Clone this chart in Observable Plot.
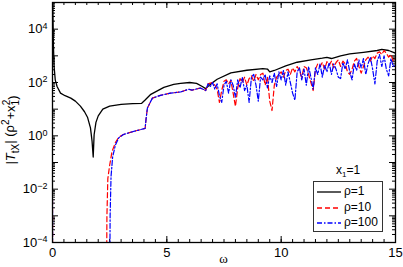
<!DOCTYPE html>
<html><head><meta charset="utf-8">
<script src="https://cdn.jsdelivr.net/npm/d3@7"></script>
<script src="https://cdn.jsdelivr.net/npm/@observablehq/plot@0.6"></script>
<style>
body{margin:0;background:#fff;font-family:"Liberation Sans",Arial,sans-serif;}
#wrap{position:relative;width:403px;height:267px;overflow:hidden;}
#legend{position:absolute;left:313px;top:181px;width:68px;height:49px;border:1px solid #333;background:#fff;font-size:12px;}
#legtitle{position:absolute;left:336px;top:163px;font-size:12px;}
.row{position:absolute;left:0;height:14px;}
.row svg{position:absolute;left:3px;top:3px;}
.row span{position:absolute;left:30px;top:-1px;white-space:nowrap;}
</style></head><body><div id="wrap"></div>
<script>
// rho = 1 (black, solid)
const rho1Omega = [0.005,0.02,0.04,0.07,0.12,0.2,0.35,0.55,0.8,1.0,1.22,1.4,1.53,1.66,1.73,1.78,1.82,1.9,2.0,2.2,2.5,3.0,3.5,3.9,4.05,4.3,4.87,5.3,5.6,6.0,6.3,6.55,6.7,6.9,7.2,7.8,8.5,9.2,9.4,9.5,9.7,10.2,10.7,11.3,11.8,12.0,12.2,12.6,13.0,13.6,14.2,14.4,14.7,15.0];
const rho1Value = [1e6,3e4,2500,400,126,71,40,32,26,20,13,8,5,2,0.63,0.16,1.1,3.2,5.6,10,13,15,16,16.6,22,36,66,85,93,100,93,71,59,85,132,229,288,331,320,251,282,417,575,708,813,871,794,1000,1175,1350,1585,1740,1585,1260];

// rho = 10 and rho = 100, smooth low-omega parts
const rho10LowOmega = [0,0.01,2.36,2.38,2.42,2.5,2.6,2.75,2.9,3.1,3.4,3.7,4.05,4.1,4.15,4.3,4.37,4.72,5.16,5.6,5.95,6.1,6.47,6.6,6.7];
const rho10LowValue = [0.004,1e-6,1e-6,1e-3,0.025,0.079,0.25,0.56,0.89,1.12,1.35,1.58,1.9,5,11,20,26,33,40,44,56,52,62,55,50];
const rho100LowOmega = [0,0.01,2.5,2.52,2.56,2.63,2.75,2.9,3.1,3.4,3.7,4.05,4.1,4.15,4.3,4.37,4.72,5.16,5.6,5.95,6.1,6.47,6.6,6.7];
const rho100LowValue = [0.004,1e-6,1e-6,1e-3,0.03,0.16,0.45,0.85,1.12,1.35,1.58,1.9,5,11,20,26,33,40,44,56,52,62,55,50];

// oscillating part, common omega grid
const oscOmega = [6.8,6.9,7.0,7.1,7.2,7.3,7.4,7.5,7.6,7.7,7.8,7.9,8.0,8.1,8.2,8.3,8.4,8.5,8.6,8.7,8.8,8.9,9.0,9.1,9.2,9.3,9.4,9.5,9.6,9.7,9.8,9.9,10.0,10.1,10.2,10.3,10.4,10.5,10.6,10.7,10.8,10.9,11.0,11.1,11.2,11.3,11.4,11.5,11.6,11.7,11.8,11.9,12.0,12.1,12.2,12.3,12.4,12.5,12.6,12.7,12.8,12.9,13.0,13.1,13.2,13.3,13.4,13.5,13.6,13.7,13.8,13.9,14.0,14.1,14.2,14.3,14.4,14.5,14.6,14.7,14.8,14.9,15.0];
const rho10Osc = [89,95,100,79,56,18,50,112,126,89,120,40,12.6,63,141,100,158,79,141,178,112,200,126,200,224,79,158,20,8.9,79,158,200,251,158,282,316,200,355,251,398,282,158,398,355,200,100,50,316,501,398,562,316,603,447,631,355,562,708,398,631,501,251,200,316,631,794,398,224,398,708,891,631,1000,794,1259,1413,1122,1585,1259,891,1122,631,794];
const rho100Osc = [89,71,100,56,89,32,18,79,112,40,126,79,28,126,63,158,50,79,18,158,200,79,20,158,126,200,63,178,100,224,71,251,126,282,79,251,100,40,22,251,355,126,316,79,398,158,56,355,200,501,158,447,251,562,200,501,316,158,141,562,316,708,251,126,501,282,708,355,794,200,501,891,316,89,631,1122,398,1000,316,178,794,398,501];

const xLabelTicks = [0,5,10,15];
const xMinorTicks = [0,0.5,1,1.5,2,2.5,3,3.5,4,4.5,5,5.5,6,6.5,7,7.5,8,8.5,9,9.5,10,10.5,11,11.5,12,12.5,13,13.5,14,14.5,15];
const yLabelTicks = [1e-4,1e-2,1,1e2,1e4];
const yDecadeTicks = [1e-4,1e-3,1e-2,1e-1,1,10,1e2,1e3,1e4,1e5];
const yMinorTicks = [];
for (let e = -4; e < 5; e++) for (let m = 2; m <= 9; m++) yMinorTicks.push(m * Math.pow(10, e));

const series = [
  ...rho1Omega.map((w,i)=>({s:"rho1", w, v:rho1Value[i]})),
  ...rho10LowOmega.map((w,i)=>({s:"rho10", w, v:rho10LowValue[i]})),
  ...oscOmega.map((w,i)=>({s:"rho10", w, v:rho10Osc[i]})),
  ...rho100LowOmega.map((w,i)=>({s:"rho100", w, v:rho100LowValue[i]})),
  ...oscOmega.map((w,i)=>({s:"rho100", w, v:rho100Osc[i]})),
];

const W=403,H=267,mL=52,mR=8,mT=2,mB=25;
const pH = H-mT-mB, pW = W-mL-mR;

const plot = Plot.plot({
  width:W, height:H, marginLeft:mL, marginRight:mR, marginTop:mT, marginBottom:mB,
  style:{fontFamily:"'Liberation Sans', Arial, sans-serif", fontSize:"12px", background:"white", color:"black"},
  x:{domain:[0,15]},
  y:{type:"log", domain:[1e-4,1e5]},
  marks:[
    Plot.tickX(xMinorTicks,{x:d=>d, insetTop:pH-3, stroke:"black"}),
    Plot.tickX(xMinorTicks,{x:d=>d, insetBottom:pH-3, stroke:"black"}),
    Plot.tickX(xLabelTicks,{x:d=>d, insetTop:pH-6, stroke:"black"}),
    Plot.tickX(xLabelTicks,{x:d=>d, insetBottom:pH-6, stroke:"black"}),
    Plot.tickY(yMinorTicks,{y:d=>d, insetRight:pW-3, stroke:"black"}),
    Plot.tickY(yMinorTicks,{y:d=>d, insetLeft:pW-3, stroke:"black"}),
    Plot.tickY(yDecadeTicks,{y:d=>d, insetRight:pW-6, stroke:"black"}),
    Plot.tickY(yDecadeTicks,{y:d=>d, insetLeft:pW-6, stroke:"black"}),
    Plot.line(series.filter(d=>d.s==="rho1"),{x:"w",y:"v",stroke:"black",strokeWidth:1.3,clip:true}),
    Plot.line(series.filter(d=>d.s==="rho10"),{x:"w",y:"v",stroke:"#ff0000",strokeWidth:1.2,strokeDasharray:"5,3",clip:true}),
    Plot.line(series.filter(d=>d.s==="rho100"),{x:"w",y:"v",stroke:"#0000ff",strokeWidth:1.2,strokeDasharray:"5,2,1.5,2",clip:true}),
    Plot.frame({stroke:"black",strokeWidth:1.3}),
    Plot.axisX(xLabelTicks,{tickSize:0,tickPadding:5,label:null,fontSize:13}),
    Plot.axisY(yLabelTicks,{tickSize:0,tickPadding:5,label:null,fontSize:13,tickFormat:d=>"10^"+Math.round(Math.log10(d))}),
  ]
});
document.getElementById("wrap").appendChild(plot);

const svg = d3.select(plot);
svg.selectAll("text").each(function(){
  const t = this.textContent;
  if (t.startsWith("10^")) {
    const sel = d3.select(this);
    const exp = t.slice(3).replace("-","\u2212");
    sel.text("");
    sel.append("tspan").text("10");
    sel.append("tspan").attr("dy","-0.5em").attr("font-size","9px").text(exp);
  }
});
// axis titles
svg.append("text").attr("x",mL+pW/2).attr("y",H-4).attr("text-anchor","middle")
  .attr("font-size","13px").attr("font-family","'Liberation Serif', serif").text("ω");
const yl = svg.append("text").attr("transform",`translate(15,${mT+pH/2+8}) rotate(-90)`)
  .attr("text-anchor","middle").attr("font-size","13px");
yl.append("tspan").text("|");
yl.append("tspan").attr("font-style","italic").text("T");
yl.append("tspan").attr("dy","0.35em").attr("font-size","10px").text("tX");
yl.append("tspan").attr("dy","-0.35em").text("| (ρ");
yl.append("tspan").attr("dy","-0.5em").attr("font-size","10px").text("2");
yl.append("tspan").attr("dy","0.5em").text("+x");
yl.append("tspan").attr("dy","0.35em").attr("font-size","10px").text("1");
yl.append("tspan").attr("dy","-0.85em").attr("dx","-5.5").attr("font-size","10px").text("2");
yl.append("tspan").attr("dy","0.5em").text(")");

// legend
const wrap = document.getElementById("wrap");
const lt = document.createElement("div");
lt.id = "legtitle";
lt.innerHTML = "x<sub style='font-size:8px'>1</sub>=1";
wrap.appendChild(lt);
const leg = document.createElement("div");
leg.id = "legend";
const entries = [
  {label:"ρ=1", color:"black", dash:"none"},
  {label:"ρ=10", color:"#ff0000", dash:"5,3"},
  {label:"ρ=100", color:"#0000ff", dash:"5,2,1.5,2"},
];
entries.forEach((e,i)=>{
  const r = document.createElement("div");
  r.className = "row";
  r.style.top = (3 + i*15.5) + "px";
  r.innerHTML = `<svg width="24" height="8"><line x1="0" y1="4" x2="24" y2="4" stroke="${e.color}" stroke-width="1.3" stroke-dasharray="${e.dash}"/></svg><span>${e.label}</span>`;
  leg.appendChild(r);
});
wrap.appendChild(leg);
</script></body></html>
